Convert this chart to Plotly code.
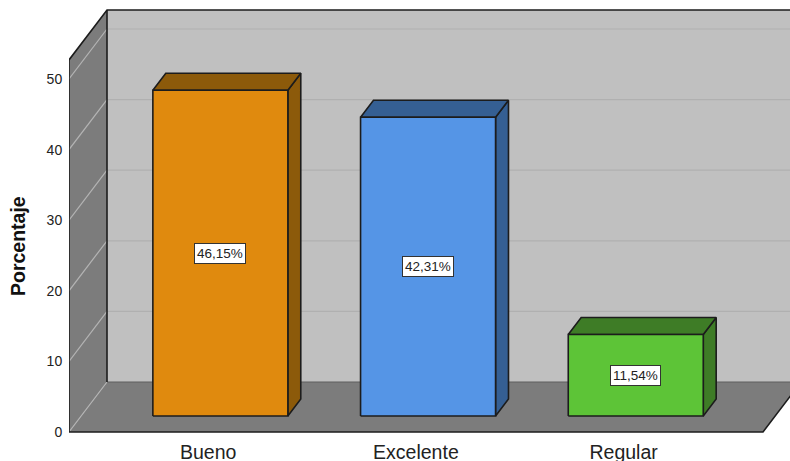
import plotly.graph_objects as go

categories = ["Bueno", "Excelente", "Regular"]
percentages = [46.15, 42.31, 11.54]
value_labels = ["46,15%", "42,31%", "11,54%"]
y_ticks = [0, 10, 20, 30, 40, 50]

front_colors = ["#E08A0E", "#5595E6", "#5DC437"]
dark_colors = ["#8C5A0A", "#355F93", "#3E7C26"]
WALL, SIDE = "#C0C0C0", "#7C7C7C"
INK = "#1C1C1C"

W, H = 790, 461
L, B = 69, 27
XS, YS = 207.7, 7.06
X0 = 208.2
X_MIN, X_MAX = (69 - X0) / XS, (790 - X0) / XS
Y_MAX, Y_MIN = 432 / YS, -2 / YS
DX, DY = 38 / XS, 50 / YS
TOP = 52.7
FAR_X = (763 - X0) / XS
T0, T1 = 0.32, 0.66
HALF = 67.5 / XS

fig = go.Figure()


def poly(xs, ys, fill=None, line=None, width=1.6):
    fig.add_trace(go.Scatter(
        x=xs, y=ys, mode="lines", hoverinfo="skip", showlegend=False,
        fill="toself" if fill else None, fillcolor=fill,
        line=dict(color=line or "rgba(0,0,0,0)", width=width),
    ))


# room: back wall, side wall, floor
poly([X_MIN + DX, FAR_X + DX, FAR_X + DX, X_MIN + DX, X_MIN + DX],
     [DY, DY, TOP + DY, TOP + DY, DY], WALL)
poly([X_MIN, X_MIN + DX, X_MIN + DX, X_MIN, X_MIN],
     [0, DY, TOP + DY, TOP, 0], SIDE)
poly([X_MIN, X_MIN + DX, FAR_X + DX, FAR_X, X_MIN],
     [0, DY, DY, 0, 0], SIDE)

# gridlines
for v in y_ticks:
    if v > 0:
        poly([X_MIN + DX, X_MAX], [v + DY, v + DY], line="#B0B0B0", width=1.2)
    poly([X_MIN, X_MIN + DX], [v, v + DY], line="#B4B4B4", width=1.2)

# room edges
poly([X_MIN + DX, X_MAX], [DY, DY], line="#5E5E5E", width=1.2)
poly([X_MIN, X_MIN + DX, X_MAX], [TOP, TOP + DY, TOP + DY], line=INK)
poly([X_MIN + DX, X_MIN + DX], [DY, TOP + DY], line=INK)
poly([X_MIN, X_MIN], [0, TOP], line=INK)
poly([X_MIN, FAR_X, FAR_X + DX], [0, 0, DY], line=INK)

# bars
for i, (cat, val) in enumerate(zip(categories, percentages)):
    x0 = i + T0 * DX - HALF
    x1 = i + T0 * DX + HALF
    y0 = T0 * DY
    y1 = y0 + val
    ox = (T1 - T0) * DX
    oy = (T1 - T0) * DY
    poly([x1, x1 + ox, x1 + ox, x1, x1], [y0, y0 + oy, y1 + oy, y1, y0],
         dark_colors[i], INK)
    poly([x0, x1, x1 + ox, x0 + ox, x0], [y1, y1, y1 + oy, y1 + oy, y1],
         dark_colors[i], INK)
    poly([x0, x1, x1, x0, x0], [y0, y0, y1, y1, y0], front_colors[i], INK)
    fig.add_annotation(
        x=i + T0 * DX, y=(y0 + y1) / 2, text=value_labels[i], showarrow=False,
        font=dict(family="Liberation Sans", size=13.5, color="#222222"),
        bgcolor="white", bordercolor="#333333", borderwidth=1, borderpad=2,
    )

fig.update_layout(
    width=W, height=H, autosize=False,
    margin=dict(l=L, r=0, t=0, b=B, pad=0, autoexpand=False),
    paper_bgcolor="white", plot_bgcolor="white",
    font=dict(family="Liberation Sans", color="#222222"),
    showlegend=False,
    xaxis=dict(
        range=[X_MIN, X_MAX], tickmode="array", tickvals=[0, 1, 2],
        ticktext=categories, showgrid=False, zeroline=False, showline=False,
        ticks="outside", ticklen=1, tickcolor="rgba(0,0,0,0)",
        tickfont=dict(size=19.5, color="#222222"), fixedrange=True, automargin=False,
    ),
    yaxis=dict(
        range=[Y_MIN, Y_MAX], tickmode="array", tickvals=y_ticks,
        showgrid=False, zeroline=False, showline=False,
        ticks="outside", ticklen=3, tickcolor="rgba(0,0,0,0)",
        tickfont=dict(size=14, color="#222222"), fixedrange=True, automargin=False,
    ),
)
fig.add_annotation(
    xref="paper", yref="paper", x=-64 / 721, y=(434 - 246) / 434,
    text="<b>Porcentaje</b>", textangle=-90, showarrow=False,
    font=dict(size=19.5, color="#111111"),
)
fig.write_html("out.html", config={"displayModeBar": False},
               post_script="document.body.style.margin='0';document.body.style.overflow='hidden';")
